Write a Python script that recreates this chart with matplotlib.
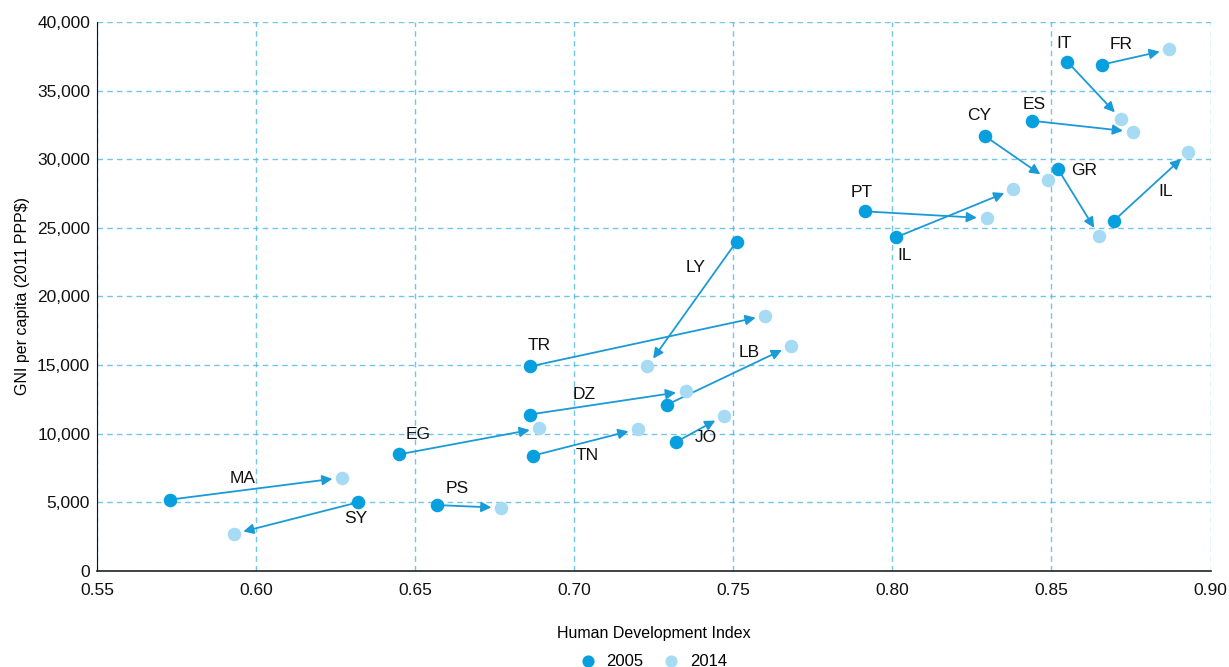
import numpy as np
import matplotlib.pyplot as plt
from matplotlib.ticker import FuncFormatter

plt.rcParams['font.family'] = ['Liberation Sans', 'DejaVu Sans']

# Country codes and their values in 2005 and 2014
codes = ["MA", "SY", "PS", "EG", "TN", "DZ", "JO", "LB", "TR", "LY",
         "PT", "IL", "CY", "ES", "GR", "IT", "FR", "IL"]
hdi_2005 = [0.573, 0.632, 0.657, 0.645, 0.687, 0.686, 0.732, 0.729, 0.686, 0.751,
            0.7915, 0.801, 0.829, 0.844, 0.852, 0.855, 0.866, 0.8695]
gni_2005 = [5200, 5000, 4800, 8500, 8400, 11400, 9400, 12100, 14900, 24000,
            26200, 24300, 31700, 32800, 29300, 37100, 36900, 25500]
hdi_2014 = [0.627, 0.593, 0.677, 0.689, 0.720, 0.735, 0.747, 0.768, 0.760, 0.723,
            0.8296, 0.838, 0.849, 0.8755, 0.865, 0.872, 0.887, 0.893]
gni_2014 = [6800, 2700, 4600, 10400, 10350, 13100, 11300, 16400, 18600, 14900,
            25700, 27800, 28500, 32000, 24400, 32900, 38000, 30500]

# label offsets from the 2005 dot, in pixels
label_dx = [72, -2, 20, 19, 54, 54, 30, 83, 9, -41, -4, 9, -6, 2, 26, -3, 19, 52]
label_dy = [21, -16, 17, 20, 0, 20, 4, 52, 21, -26, 19, -18, 20, 16, -2, 18, 20, 30]

dark = "#079fdd"
light = "#a7daf3"
grid_col = "#4fb8e6"

fig = plt.figure(figsize=(12.29, 6.67), dpi=100)
ax = fig.add_axes([0.079, 0.144, 0.906, 0.823])

# arrows from 2005 to 2014
for i in range(len(codes)):
    ax.annotate("", xy=(hdi_2014[i], gni_2014[i]), xytext=(hdi_2005[i], gni_2005[i]),
                arrowprops=dict(arrowstyle="-|>", color="#1a9ad6", lw=1.3,
                                mutation_scale=15, shrinkA=0, shrinkB=7),
                zorder=3)

ax.scatter(hdi_2014, gni_2014, s=95, color=light, zorder=4, linewidths=0, label="2014")
ax.scatter(hdi_2005, gni_2005, s=95, color=dark, zorder=5, linewidths=0, label="2005")

for i in range(len(codes)):
    ax.annotate(codes[i], xy=(hdi_2005[i], gni_2005[i]),
                xytext=(label_dx[i], label_dy[i]), textcoords="offset pixels",
                ha="center", va="center", fontsize=12.5, color="#111111", zorder=6)

ax.set_xlim(0.55, 0.90)
ax.set_ylim(0, 40000)
ax.set_xticks(np.arange(0.55, 0.9001, 0.05))
ax.set_yticks(np.arange(0, 40001, 5000))
ax.xaxis.set_major_formatter(FuncFormatter(lambda v, p: f"{v:.2f}"))
ax.yaxis.set_major_formatter(FuncFormatter(lambda v, p: f"{v:,.0f}"))
ax.tick_params(length=0, labelsize=12.5, colors="#111111")
ax.tick_params(axis="x", pad=9)
ax.tick_params(axis="y", pad=5)

ax.grid(True, linestyle=(0, (4, 3)), color=grid_col, lw=1.0, alpha=0.8)
ax.set_axisbelow(True)
for s in ["top", "right"]:
    ax.spines[s].set_visible(False)
ax.spines["left"].set_color("#111111")
ax.spines["bottom"].set_color("#222222")
ax.spines["bottom"].set_linewidth(1.2)

ax.set_xlabel("Human Development Index", fontsize=11.5, labelpad=20)
ax.set_ylabel("GNI per capita (2011 PPP$)", fontsize=11.5, labelpad=5)

handles, labels = ax.get_legend_handles_labels()
fig.legend(handles[::-1], labels[::-1], loc="lower center", ncol=2, frameon=False,
           fontsize=12, handletextpad=0.1, columnspacing=0.7, markerscale=0.9,
           bbox_to_anchor=(0.528, -0.025))

fig.savefig("out.png", dpi=100)
